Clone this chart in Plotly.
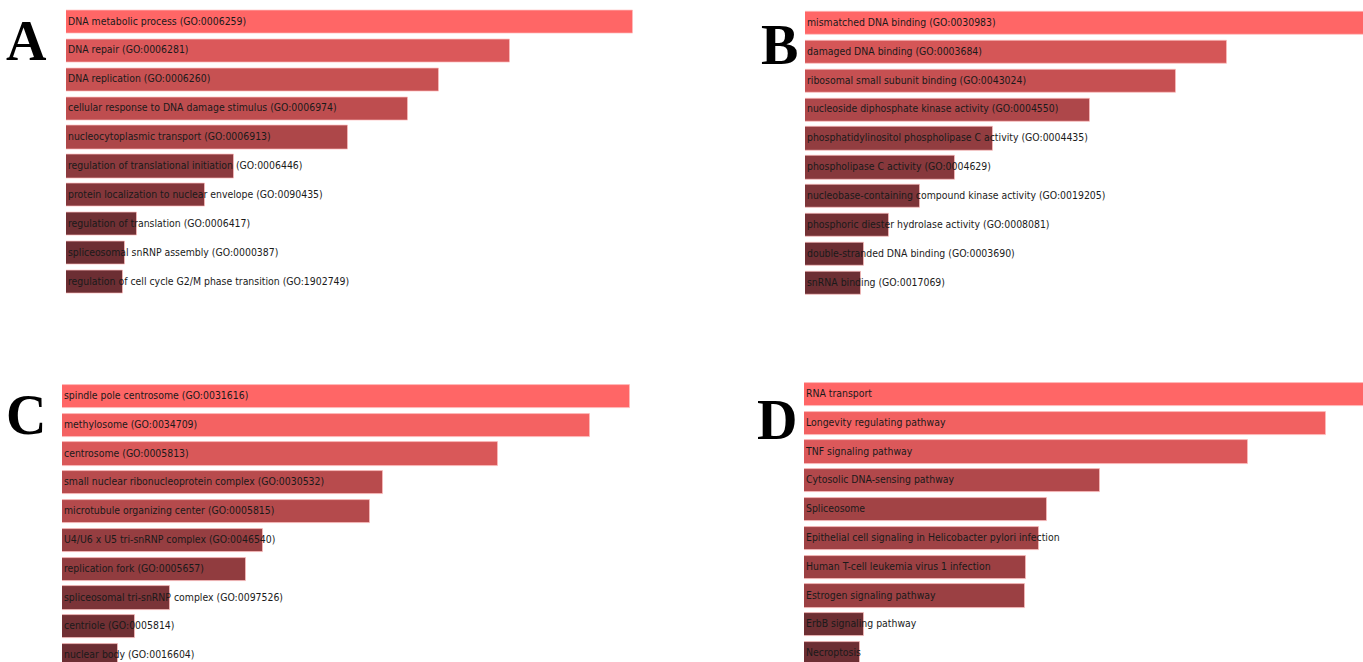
import plotly.graph_objects as go

# Enrichment results: term labels and bar scores per panel
terms_a = [
    "DNA metabolic process (GO:0006259)",
    "DNA repair (GO:0006281)",
    "DNA replication (GO:0006260)",
    "cellular response to DNA damage stimulus (GO:0006974)",
    "nucleocytoplasmic transport (GO:0006913)",
    "regulation of translational initiation (GO:0006446)",
    "protein localization to nuclear envelope (GO:0090435)",
    "regulation of translation (GO:0006417)",
    "spliceosomal snRNP assembly (GO:0000387)",
    "regulation of cell cycle G2/M phase transition (GO:1902749)",
]
scores_a = [567, 444, 373, 342, 282, 168, 139, 71, 59, 57]

terms_b = [
    "mismatched DNA binding (GO:0030983)",
    "damaged DNA binding (GO:0003684)",
    "ribosomal small subunit binding (GO:0043024)",
    "nucleoside diphosphate kinase activity (GO:0004550)",
    "phosphatidylinositol phospholipase C activity (GO:0004435)",
    "phospholipase C activity (GO:0004629)",
    "nucleobase-containing compound kinase activity (GO:0019205)",
    "phosphoric diester hydrolase activity (GO:0008081)",
    "double-stranded DNA binding (GO:0003690)",
    "snRNA binding (GO:0017069)",
]
scores_b = [567, 422, 371, 285, 188, 150, 115, 84, 59, 56]

terms_c = [
    "spindle pole centrosome (GO:0031616)",
    "methylosome (GO:0034709)",
    "centrosome (GO:0005813)",
    "small nuclear ribonucleoprotein complex (GO:0030532)",
    "microtubule organizing center (GO:0005815)",
    "U4/U6 x U5 tri-snRNP complex (GO:0046540)",
    "replication fork (GO:0005657)",
    "spliceosomal tri-snRNP complex (GO:0097526)",
    "centriole (GO:0005814)",
    "nuclear body (GO:0016604)",
]
scores_c = [568, 528, 436, 321, 308, 201, 184, 108, 73, 56]

terms_d = [
    "RNA transport",
    "Longevity regulating pathway",
    "TNF signaling pathway",
    "Cytosolic DNA-sensing pathway",
    "Spliceosome",
    "Epithelial cell signaling in Helicobacter pylori infection",
    "Human T-cell leukemia virus 1 infection",
    "Estrogen signaling pathway",
    "ErbB signaling pathway",
    "Necroptosis",
]
scores_d = [567, 522, 444, 296, 243, 235, 222, 221, 60, 56]

panel_letters = ["A", "B", "C", "D"]

W, H = 1363, 662
LABEL_FONT = "DejaVu Sans Condensed, Arial Narrow, sans-serif"
COLORSCALE = [[0.0, "#5c282d"], [1.0, "#ff6666"]]
SCORE_MAX = 568

# layout of each panel in pixels: bar origin x, first row centre y, row pitch, letter position
panels = [
    dict(terms=terms_a, scores=scores_a, left=66, row0=22.0, pitch=28.9, letter=(26, 41)),
    dict(terms=terms_b, scores=scores_b, left=805, row0=23.2, pitch=28.9, letter=(780, 45)),
    dict(terms=terms_c, scores=scores_c, left=62, row0=396.5, pitch=28.8, letter=(26, 415)),
    dict(terms=terms_d, scores=scores_d, left=804, row0=394.5, pitch=28.8, letter=(777, 420)),
]

fig = go.Figure()
annotations = []

for i, p in enumerate(panels):
    n = i + 1
    xa = "x" if n == 1 else f"x{n}"
    ya = "y" if n == 1 else f"y{n}"
    rows = list(range(len(p["terms"])))

    # x axis: one score unit per pixel, clipped at the page edge
    x_right_px = min(p["left"] + 600, W)
    x_span = x_right_px - p["left"]

    # y axis: rows are integers, first row at the top
    top_px = max(p["row0"] - 0.5 * p["pitch"], 0)
    bot_px = min(p["row0"] + (len(rows) - 0.5) * p["pitch"], H)
    y_top_val = (top_px - p["row0"]) / p["pitch"]
    y_bot_val = (bot_px - p["row0"]) / p["pitch"]

    fig.add_trace(go.Bar(
        x=p["scores"], y=rows, orientation="h", width=0.8,
        marker=dict(color=p["scores"], colorscale=COLORSCALE, cmin=0, cmax=SCORE_MAX,
                    line=dict(color="rgba(255,190,190,0.7)", width=1)),
        xaxis=xa, yaxis=ya, showlegend=False, hoverinfo="skip",
    ))
    fig.add_trace(go.Scatter(
        x=[2] * len(rows), y=rows, mode="text", text=p["terms"],
        textposition="middle right",
        textfont=dict(family=LABEL_FONT, size=10.4, color="#1a1a1a"),
        xaxis=xa, yaxis=ya, showlegend=False, hoverinfo="skip", cliponaxis=False,
    ))

    axis_common = dict(showgrid=False, zeroline=False, showline=False,
                       showticklabels=False, ticks="")
    fig.update_layout({
        ("xaxis" if n == 1 else f"xaxis{n}"): dict(
            domain=[p["left"] / W, x_right_px / W], range=[0, x_span],
            anchor=ya, fixedrange=True, **axis_common),
        ("yaxis" if n == 1 else f"yaxis{n}"): dict(
            domain=[1 - bot_px / H, 1 - top_px / H], range=[y_bot_val, y_top_val],
            anchor=xa, fixedrange=True, **axis_common),
    })

    lx, ly = p["letter"]
    annotations.append(dict(
        text=f"<b>{panel_letters[i]}</b>", x=lx / W, y=1 - ly / H,
        xref="paper", yref="paper", xanchor="center", yanchor="middle",
        showarrow=False,
        font=dict(family="Liberation Serif, Times New Roman, serif", size=56, color="black"),
    ))

fig.update_layout(
    width=W, height=H, margin=dict(l=0, r=0, t=0, b=0),
    paper_bgcolor="white", plot_bgcolor="white",
    annotations=annotations, bargap=0,
)

fig.write_html("out.html", config={"displayModeBar": False})
